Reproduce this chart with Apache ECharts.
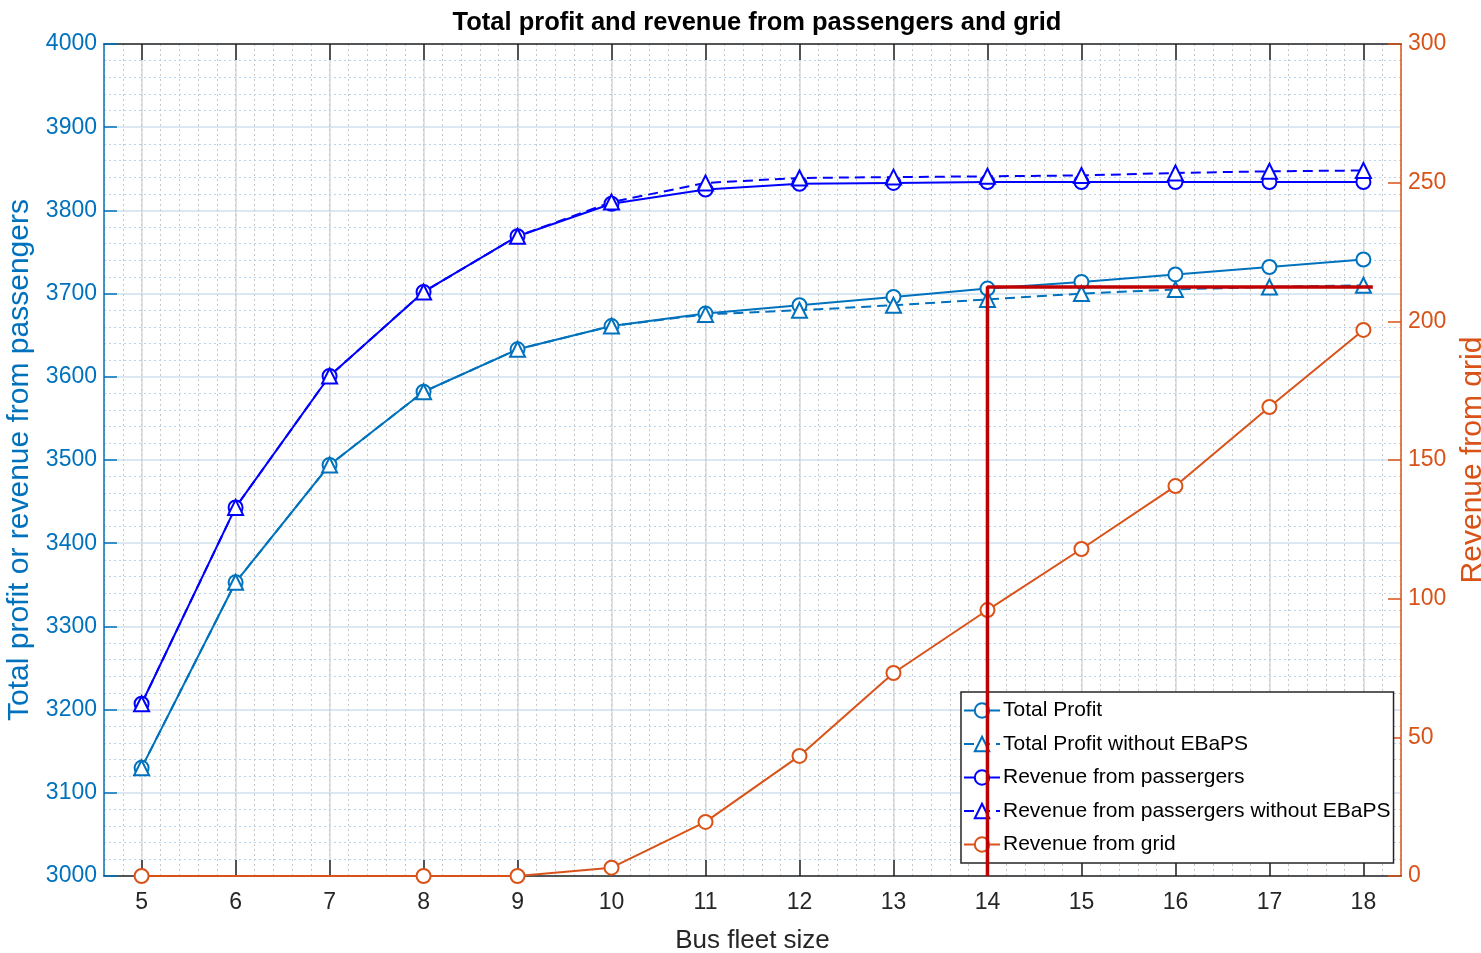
<!DOCTYPE html>
<html>
<head>
<meta charset="utf-8">
<script src="https://cdn.jsdelivr.net/npm/echarts@6/dist/echarts.min.js"></script>
<style>
html,body{margin:0;padding:0;background:#fff;}
#c{width:1481px;height:953px;}
</style>
</head>
<body>
<div id="c"></div>
<script>
const fleet = [5,6,7,8,9,10,11,12,13,14,15,16,17,18];
const totalProfit = [3130,3353,3494,3582,3633,3661,3676,3686,3696,3706,3714,3723,3732,3741];
const totalProfitNoEBaPS = [3130,3353,3494,3582,3633,3661,3675,3680,3686,3693,3700,3705,3708,3710];
const revPassengers = [3207,3443,3601,3702,3769,3808,3825,3832,3833,3834,3834,3834,3834,3834];
const revPassengersNoEBaPS = [3207,3443,3601,3702,3769,3810,3833,3839,3840,3841,3842,3845,3847,3848];
const gridFleet = [5,8,9,10,11,12,13,14,15,16,17,18];
const revGrid = [0,0,0,3,19.5,43.3,73.2,95.9,117.9,140.6,169.1,196.9];
const markerX = [14,14,18.1];
const markerY = [3000,3708,3708];
const xTicks = [5,6,7,8,9,10,11,12,13,14,15,16,17,18];
const names = ['Total Profit','Total Profit without EBaPS','Revenue from passergers','Revenue from passergers without EBaPS','Revenue from grid'];

const C1 = '#0072BD', C2 = '#0000FF', C3 = '#D95319', RED = '#C00000';
const FONT = "'Liberation Sans', Arial, sans-serif";
const pair = (xs, ys) => xs.map((x,i)=>[x, ys[i]]);
const plain = v => String(v);

const chart = echarts.init(document.getElementById('c'));
chart.setOption({
  animation: false,
  backgroundColor: '#fff',
  title: {
    text: 'Total profit and revenue from passengers and grid',
    left: 752, top: 5, textAlign: 'center',
    textStyle: {fontFamily: FONT, fontSize: 25.5, fontWeight: 'bold', color: '#000'}
  },
  grid: {left: 104, right: 80, top: 44, bottom: 77, containLabel: false, outerBoundsMode: 'none'},
  legend: {
    orient: 'vertical', left: 961, top: 692,
    padding: [8, 3, 8, 2], itemGap: 12.5,
    itemWidth: 36, itemHeight: 18,
    backgroundColor: '#fff', borderColor: '#262626', borderWidth: 1.5,
    textStyle: {fontFamily: FONT, fontSize: 21, color: '#000', padding: [0,0,0,-2]},
    data: names
  },
  xAxis: [
    {
      type: 'value', min: 4.6, max: 18.4, position: 'bottom',
      axisLine: {show: true, onZero: false, lineStyle: {color: '#262626', width: 1.5}},
      axisTick: {show: true, inside: true, length: 16, customValues: xTicks, lineStyle: {color: '#262626', width: 1.5}},
      axisLabel: {show: true, customValues: xTicks, formatter: plain, margin: 15, fontFamily: FONT, fontSize: 23, color: '#262626'},
      splitLine: {show: true, lineStyle: {color: '#d9d9d9', width: 1.5}},
      name: 'Bus fleet size', nameLocation: 'middle', nameGap: 52,
      nameTextStyle: {fontFamily: FONT, fontSize: 26, color: '#262626', verticalAlign: 'top'}
    },
    {
      type: 'value', min: 4.6, max: 18.4, position: 'top',
      axisLine: {show: true, onZero: false, lineStyle: {color: '#262626', width: 1.5}},
      axisTick: {show: true, inside: true, length: 16, customValues: xTicks, lineStyle: {color: '#262626', width: 1.5}},
      axisLabel: {show: false},
      splitLine: {show: false}
    },
    {
      type: 'value', min: 4.6, max: 18.4, interval: 0.2, position: 'bottom',
      axisLine: {show: false}, axisTick: {show: false}, axisLabel: {show: false},
      splitLine: {show: true, lineStyle: {color: '#c8c8c8', width: 1, type: [2, 3]}}
    }
  ],
  yAxis: [
    {
      type: 'value', min: 3000, max: 4000, interval: 100, position: 'left',
      axisLine: {show: true, onZero: false, lineStyle: {color: C1, width: 1.5}},
      axisTick: {show: true, inside: true, length: 13, lineStyle: {color: C1, width: 1.5}},
      axisLabel: {margin: 7, formatter: plain, fontFamily: FONT, fontSize: 23, color: C1},
      splitLine: {show: true, lineStyle: {color: '#cfe1ef', width: 1.5}},
      minorTick: {show: false, splitNumber: 5},
      minorSplitLine: {show: true, lineStyle: {color: '#b5d3ea', width: 1, type: [2, 3]}},
      name: 'Total profit or revenue from passengers', nameLocation: 'middle', nameGap: 54, nameRotate: 90,
      nameTextStyle: {fontFamily: FONT, fontSize: 30, color: C1}
    },
    {
      type: 'value', min: 0, max: 300, interval: 50, position: 'right',
      axisLine: {show: true, onZero: false, lineStyle: {color: C3, width: 1.5}},
      axisTick: {show: true, inside: true, length: 13, lineStyle: {color: C3, width: 1.5}},
      axisLabel: {margin: 7, formatter: plain, fontFamily: FONT, fontSize: 23, color: C3},
      splitLine: {show: false},
      name: 'Revenue from grid', nameLocation: 'middle', nameGap: 53, nameRotate: 90,
      nameTextStyle: {fontFamily: FONT, fontSize: 30, color: C3}
    }
  ],
  series: [
    {
      name: names[0], type: 'line', xAxisIndex: 0, yAxisIndex: 0,
      data: pair(fleet, totalProfit), color: C1,
      symbol: 'emptyCircle', symbolSize: 14,
      lineStyle: {width: 2, color: C1}, itemStyle: {color: C1, borderWidth: 2}
    },
    {
      name: names[1], type: 'line', xAxisIndex: 0, yAxisIndex: 0,
      data: pair(fleet, totalProfitNoEBaPS), color: C1,
      symbol: 'emptyTriangle', symbolSize: 15,
      lineStyle: {width: 2, color: C1, type: [10, 6]}, itemStyle: {color: C1, borderWidth: 2}
    },
    {
      name: names[2], type: 'line', xAxisIndex: 0, yAxisIndex: 0,
      data: pair(fleet, revPassengers), color: C2,
      symbol: 'emptyCircle', symbolSize: 14,
      lineStyle: {width: 2, color: C2}, itemStyle: {color: C2, borderWidth: 2}
    },
    {
      name: names[3], type: 'line', xAxisIndex: 0, yAxisIndex: 0,
      data: pair(fleet, revPassengersNoEBaPS), color: C2,
      symbol: 'emptyTriangle', symbolSize: 15,
      lineStyle: {width: 2, color: C2, type: [10, 6]}, itemStyle: {color: C2, borderWidth: 2}
    },
    {
      name: names[4], type: 'line', xAxisIndex: 0, yAxisIndex: 1,
      data: pair(gridFleet, revGrid), color: C3,
      symbol: 'emptyCircle', symbolSize: 14,
      lineStyle: {width: 2, color: C3}, itemStyle: {color: C3, borderWidth: 2}
    },
    {
      name: 'marker', type: 'line', xAxisIndex: 0, yAxisIndex: 0, z: 10,
      data: pair(markerX, markerY), symbol: 'none', silent: true,
      lineStyle: {width: 3.5, color: RED}
    }
  ]
});
</script>
</body>
</html>
